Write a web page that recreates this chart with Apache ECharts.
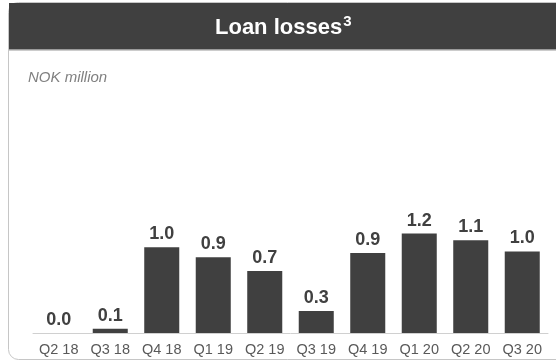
<!DOCTYPE html>
<html>
<head>
<meta charset="utf-8">
<script src="https://cdn.jsdelivr.net/npm/echarts@6/dist/echarts.min.js"></script>
<style>
  html, body { margin: 0; padding: 0; background: #ffffff; }
  #chart { width: 556px; height: 363px; }
</style>
</head>
<body>
<div id="chart"></div>
<script>
// Quarterly loan losses, NOK million
const quarters = ['Q2 18', 'Q3 18', 'Q4 18', 'Q1 19', 'Q2 19', 'Q3 19', 'Q4 19', 'Q1 20', 'Q2 20', 'Q3 20'];
const lossValues = [0.0, 0.05, 1.01, 0.89, 0.73, 0.26, 0.94, 1.17, 1.09, 0.96];
const titleText = 'Loan losses';
const titleNote = '3';
const unitText = 'NOK million';

const chart = echarts.init(document.getElementById('chart'), null, { renderer: 'canvas' });

chart.setOption({
  animation: false,
  backgroundColor: '#ffffff',
  graphic: [
    {
      type: 'rect',
      z: -10,
      shape: { x: 8.5, y: 2.5, width: 580, height: 357, r: 10 },
      style: { fill: '#ffffff', stroke: '#c6c6c6', lineWidth: 1 }
    },
    {
      type: 'rect',
      z: -9,
      shape: { x: 9, y: 3, width: 560, height: 47 },
      style: { fill: '#404040' }
    },
    {
      type: 'rect',
      z: -9,
      shape: { x: 9, y: 49, width: 560, height: 1.5 },
      style: { fill: '#9a9a9a' }
    },
    {
      type: 'text',
      left: 215,
      top: 14,
      style: {
        text: '{t|' + titleText + '}{s|' + titleNote + '}',
        rich: {
          t: { fontFamily: 'Liberation Sans, Arial, sans-serif', fontWeight: 'bold', fontSize: 22, fill: '#ffffff', verticalAlign: 'bottom', lineHeight: 25 },
          s: { fontFamily: 'Liberation Sans, Arial, sans-serif', fontWeight: 'bold', fontSize: 15, fill: '#ffffff', verticalAlign: 'top', lineHeight: 25, padding: [0, 0, 8, 1] }
        }
      }
    },
    {
      type: 'text',
      left: 28,
      top: 70,
      style: {
        text: unitText,
        fontFamily: 'Liberation Sans, Arial, sans-serif',
        fontStyle: 'italic',
        fontSize: 15,
        fill: '#808080'
      }
    }
  ],
  grid: { left: 33, right: 8, top: 163, bottom: 30 },
  xAxis: {
    type: 'category',
    data: quarters,
    axisLine: { lineStyle: { color: '#d0d0d0', width: 1 } },
    axisTick: { show: false },
    axisLabel: {
      fontFamily: 'Liberation Sans, Arial, sans-serif',
      fontSize: 14.5,
      color: '#595959',
      margin: 9,
      interval: 0
    }
  },
  yAxis: {
    type: 'value',
    min: 0,
    max: 2,
    show: false,
    splitLine: { show: false }
  },
  series: [
    {
      type: 'bar',
      data: lossValues,
      barWidth: '68%',
      itemStyle: { color: '#404040' },
      label: {
        show: true,
        position: 'top',
        distance: 4,
        fontFamily: 'Liberation Sans, Arial, sans-serif',
        fontWeight: 'bold',
        fontSize: 18,
        lineHeight: 18,
        color: '#404040',
        formatter: p => p.value.toFixed(1)
      }
    }
  ]
});
</script>
</body>
</html>
